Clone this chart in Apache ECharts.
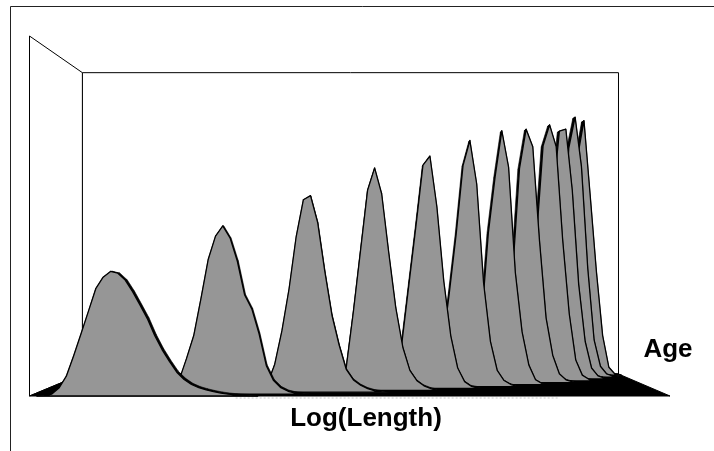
<!DOCTYPE html>
<html>
<head>
<meta charset="utf-8">
<script src="https://cdn.jsdelivr.net/npm/echarts/dist/echarts.min.js"></script>
<style>
  html, body { margin: 0; padding: 0; background: #fff; }
  #chart { width: 714px; height: 451px; }
</style>
</head>
<body>
<div id="chart"></div>
<script>
// Length-frequency curves per age group on a Log(Length) bin scale,
// drawn as a 3-D area chart with the youngest group in front.

// Bins along Log(Length): 0 .. 87
const binMin = 0;
const binMax = 87;
const freqMax = 100;

// First bin of each age group's curve (youngest first)
const startBins = [1, 17, 30, 41, 47, 53, 58, 63, 67, 70, 73, 75];

// Frequencies per bin, from each group's first bin onwards
const age1 = [0, 0.1, 0.5, 2.2, 5.5, 11.2, 17.3, 23.5, 29.8, 33.0, 34.6, 34.1, 32.2, 29.0, 25.3, 21.5,
              16.8, 12.9, 9.6, 6.6, 4.6, 3.2, 2.3, 1.7, 1.2, 0.8, 0.5, 0.3, 0.15, 0.05, 0];
const age2 = [0, 0.2, 0.8, 4.0, 10.0, 16.5, 27.0, 38.0, 44.5, 47.4, 44.0, 37.5, 28.0, 24.0, 17.0, 8.0,
              3.8, 1.8, 0.8, 0.3, 0.1, 0];
const age3 = [0, 0.8, 2.5, 8.0, 17.5, 29.5, 44.5, 55.0, 56.2, 48.5, 34.5, 22.0, 13.5, 6.5, 3.5, 2.0,
              1.0, 0.4, 0.1, 0];
const age4 = [0, 1.5, 7.0, 23.0, 40.5, 58.0, 64.5, 57.0, 40.0, 24.0, 12.5, 5.8, 2.8, 1.3, 0.5, 0];
const age5 = [0, 0.5, 1.5, 5.0, 14.0, 31.0, 48.0, 65.7, 68.4, 53.5, 31.5, 15.5, 6.0, 2.0, 0.6, 0.2, 0];
const age6 = [0, 0.5, 1.5, 4.5, 12.0, 28.0, 45.5, 66.0, 73.5, 60.5, 31.0, 13.5, 4.8, 1.8, 0.6, 0];
const age7 = [0, 0.3, 0.8, 2.5, 8.0, 20.0, 46.0, 63.0, 77.0, 66.0, 34.0, 16.0, 6.0, 1.5, 0.3, 0];
const age8 = [0, 0.3, 1.0, 3.5, 12.0, 35.0, 66.0, 78.1, 72.7, 44.0, 20.0, 8.5, 2.8, 0.9, 0.3, 0];
const age9 = [0, 0.4, 1.5, 5.0, 18.0, 45.0, 73.5, 80.1, 73.3, 44.0, 21.0, 6.5, 1.8, 0.5, 0];
const age10 = [0, 0.5, 2.0, 7.0, 25.0, 58.0, 78.8, 79.4, 60.0, 30.0, 12.0, 3.5, 1.0, 0.3, 0];
const age11 = [0, 1.0, 3.0, 10.0, 35.0, 74.0, 84.0, 68.0, 35.0, 12.0, 3.5, 1.0, 0.3, 0];
const age12 = [0, 0.8, 3.0, 12.0, 40.0, 72.0, 83.6, 59.0, 34.0, 13.0, 2.6, 0.3, 0];

const ageGroups = [age1, age2, age3, age4, age5, age6, age7, age8, age9, age10, age11, age12];

// Span of the faint dotted axis line under the floor (in bins)
const axisLineBins = [28, 72];

const xTitle = 'Log(Length)';
const depthTitle = 'Age';

// ---- 3-D view settings ----
const vanish = [0.5066, 0.625]; // vanishing point, as a fraction of the front plane
const groupStep = 0.014;        // perspective scale step from one age group to the next
const ribbonDepth = 0.009;      // depth of each ribbon (as a scale step)
const backScale = 0.837;        // perspective scale of the back wall
const faceColor = '#969696';
const edgeColor = '#000';

function projector(api) {
  const p0 = api.coord([binMin, 0]);
  const p1 = api.coord([binMax, freqMax]);
  const vx = p0[0] + (p1[0] - p0[0]) * vanish[0];
  const vy = p1[1] + (p0[1] - p1[1]) * vanish[1];
  return function (p, s) {
    return [vx + (p[0] - vx) * s, vy + (p[1] - vy) * s];
  };
}

// Walls and floor of the plot box
function renderBox(params, api) {
  if (params.dataIndexInside !== 0) return null;
  const proj = projector(api);
  const fbl = api.coord([binMin, 0]);
  const fbr = api.coord([binMax, 0]);
  const ftl = api.coord([binMin, freqMax]);
  const ftr = api.coord([binMax, freqMax]);
  const bbl = proj(fbl, backScale);
  const bbr = proj(fbr, backScale);
  const btl = proj(ftl, backScale);
  const btr = proj(ftr, backScale);
  const a0 = api.coord([axisLineBins[0], 0]);
  const a1 = api.coord([axisLineBins[1], 0]);
  const line = { stroke: '#000', lineWidth: 1, fill: '#fff' };
  return {
    type: 'group',
    children: [
      { type: 'polygon', shape: { points: [btl, btr, bbr, bbl] }, style: line },
      { type: 'polygon', shape: { points: [ftl, btl, bbl, fbl] }, style: line },
      { type: 'polygon', shape: { points: [fbl, fbr, bbr, bbl] },
        style: { fill: '#000', stroke: '#000', lineWidth: 1 } },
      { type: 'line', shape: { x1: a0[0], y1: a0[1] + 2, x2: a1[0], y2: a1[1] + 2 },
        style: { stroke: '#c8c8c8', lineWidth: 1, lineDash: [2, 2] } }
    ]
  };
}

// One ribbon: dark top surface, then the grey front face with its outline
function ribbonRenderer(k) {
  return function (params, api) {
    if (params.dataIndexInside !== 0) return null;
    const proj = projector(api);
    const sFront = 1 - k * groupStep;
    const sBack = sFront - ribbonDepth;
    const n = params.dataInsideLength;
    const front = [];
    const back = [];
    for (let j = 0; j < n; j++) {
      const c = api.coord([api.value(0, j), api.value(1, j)]);
      front.push(proj(c, sFront));
      back.push(proj(c, sBack));
    }
    const base0 = proj(api.coord([api.value(0, 0), 0]), sFront);
    const base1 = proj(api.coord([api.value(0, n - 1), 0]), sFront);
    const children = [];
    for (let j = 0; j < n - 1; j++) {
      children.push({
        type: 'polygon',
        shape: { points: [front[j], front[j + 1], back[j + 1], back[j]] },
        style: { fill: '#000', stroke: '#000', lineWidth: 0.6 }
      });
    }
    children.push({
      type: 'polygon',
      shape: { points: [base0].concat(front, [base1]) },
      style: { fill: faceColor, stroke: edgeColor, lineWidth: 1.3, lineJoin: 'round' }
    });
    return { type: 'group', children: children };
  };
}

const series = [{
  type: 'custom',
  coordinateSystem: 'cartesian2d',
  renderItem: renderBox,
  data: [[binMin, 0]],
  clip: false,
  silent: true
}];

for (let k = ageGroups.length - 1; k >= 0; k--) {
  const values = ageGroups[k];
  series.push({
    type: 'custom',
    name: 'Age ' + (k + 1),
    coordinateSystem: 'cartesian2d',
    renderItem: ribbonRenderer(k),
    encode: { x: 0, y: 1 },
    data: values.map(function (v, i) { return [startBins[k] + i, v]; }),
    clip: false,
    silent: true
  });
}

const chart = echarts.init(document.getElementById('chart'), null, { renderer: 'canvas' });
chart.setOption({
  animation: false,
  backgroundColor: '#fff',
  grid: { left: 29.5, top: 36, width: 640.5, height: 360, containLabel: false },
  xAxis: { type: 'value', min: binMin, max: binMax, show: false },
  yAxis: { type: 'value', min: 0, max: freqMax, show: false },
  graphic: [
    { type: 'rect', silent: true, z: 100,
      shape: { x: 10.5, y: 6.5, width: 760, height: 500 },
      style: { fill: 'none', stroke: '#222', lineWidth: 1 } },
    { type: 'text', silent: true, z: 100,
      style: { x: 366, y: 419, text: xTitle, textAlign: 'center', textVerticalAlign: 'middle',
               font: 'bold 26px "Liberation Sans", Arial, sans-serif', fill: '#000' } },
    { type: 'text', silent: true, z: 100,
      style: { x: 668, y: 350, text: depthTitle, textAlign: 'center', textVerticalAlign: 'middle',
               font: 'bold 26px "Liberation Sans", Arial, sans-serif', fill: '#000' } }
  ],
  series: series
});
</script>
</body>
</html>
